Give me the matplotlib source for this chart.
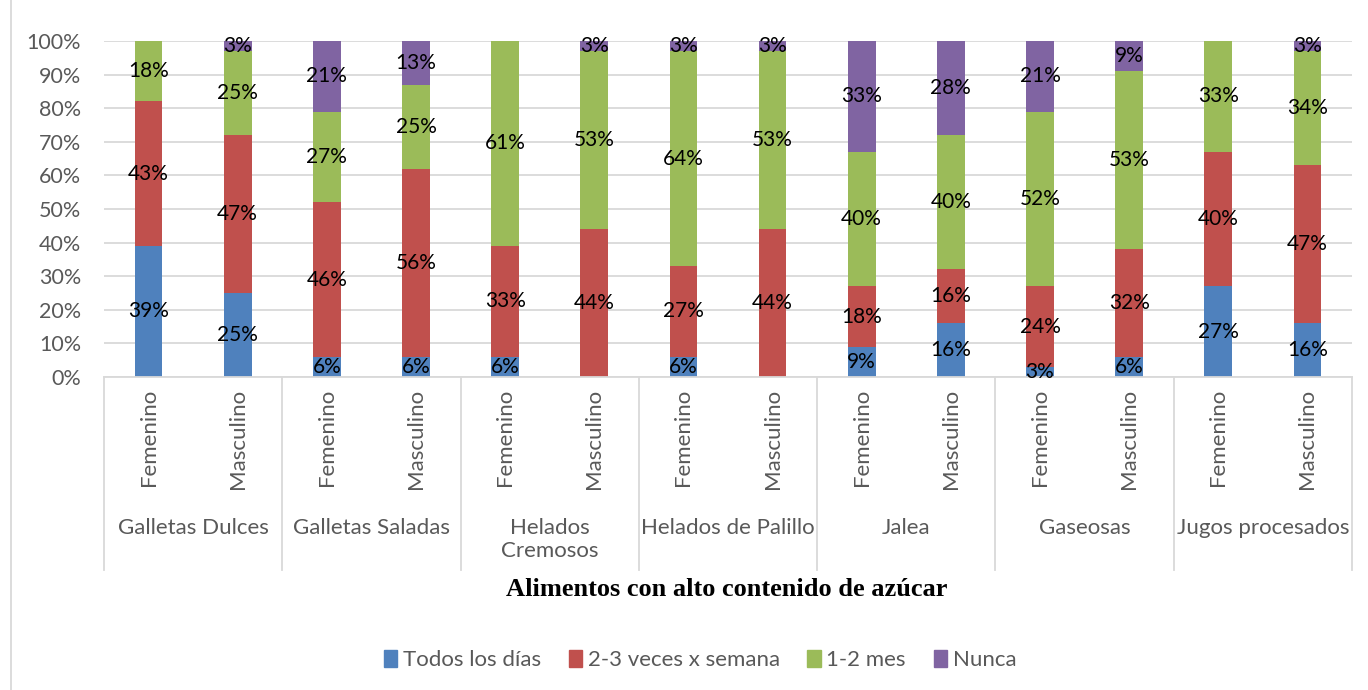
import numpy as np
import matplotlib.pyplot as plt
from matplotlib.patches import Patch
from matplotlib.lines import Line2D
import matplotlib.transforms as mtransforms

plt.rcParams['font.family'] = ['Lato', 'DejaVu Sans']

grupos = ['Galletas Dulces', 'Galletas Saladas', 'Helados\nCremosos',
          'Helados de Palillo', 'Jalea', 'Gaseosas', 'Jugos procesados']
sexos = ['Femenino', 'Masculino']
series = ['Todos los días', '2-3 veces x semana', '1-2 mes', 'Nunca']
colores = ['#4F81BD', '#C0504D', '#9BBB59', '#8064A2']

# porcentajes por barra (F, M de cada grupo)
todos_dias = [39, 25, 6, 6, 6, 0, 6, 0, 9, 16, 3, 6, 27, 16]
veces_semana = [43, 47, 46, 56, 33, 44, 27, 44, 18, 16, 24, 32, 40, 47]
uno_dos_mes = [18, 25, 27, 25, 61, 53, 64, 53, 40, 40, 52, 53, 33, 34]
nunca = [0, 3, 21, 13, 0, 3, 3, 3, 33, 28, 21, 9, 0, 3]

datos = [todos_dias, veces_semana, uno_dos_mes, nunca]
n = len(todos_dias)
x = np.arange(n)

fig = plt.figure(figsize=(13.68, 6.9), dpi=100)
W, H = 1368, 690
ax = fig.add_axes([104 / W, 1 - 377 / H, (1352 - 104) / W, (377 - 41) / H])

base = np.zeros(n)
for vals, col in zip(datos, colores):
    vals = np.array(vals, dtype=float)
    ax.bar(x, vals, 0.31, bottom=base, color=col, zorder=2)
    for xi, b, v in zip(x, base, vals):
        if v > 0:
            ax.text(xi, b + v / 2, f'{int(v)}%', ha='center', va='center',
                    fontsize=15, color='black', zorder=3)
    base += vals

ax.set_xlim(-0.5, n - 0.5)
ax.set_ylim(0, 100)
ax.set_yticks(np.arange(0, 101, 10))
ax.set_yticklabels([f'{t}%' for t in range(0, 101, 10)])
ax.tick_params(axis='y', length=0, labelsize=15.5, labelcolor='#595959', pad=16.5)
ax.set_xticks([])
ax.grid(axis='y', color='#D9D9D9', linewidth=1.3, zorder=0)
for s in ['top', 'right', 'left']:
    ax.spines[s].set_visible(False)
ax.spines['bottom'].set_color('#D9D9D9')
ax.spines['bottom'].set_linewidth(1.3)

# etiquetas de categoría en dos niveles
trans = mtransforms.blended_transform_factory(ax.transData, fig.transFigure)
for i in range(n):
    ax.text(i, 1 - 389 / H, sexos[i % 2], rotation=90, ha='center', va='top',
            fontsize=16, color='#595959', transform=trans)
for g, nombre in enumerate(grupos):
    ax.text(2 * g + 0.5, 1 - 518 / H, nombre, ha='center', va='top',
            fontsize=16, color='#595959', transform=trans, linespacing=1.2)
for k in range(len(grupos) + 1):
    ax.add_line(Line2D([2 * k - 0.5, 2 * k - 0.5], [1 - 377 / H, 1 - 570 / H],
                       color='#D9D9D9', linewidth=1.3, transform=trans,
                       clip_on=False))

fig.text(727 / W, 1 - 590 / H, 'Alimentos con alto contenido de azúcar',
         ha='center', va='center', fontsize=19, fontweight='bold',
         family='Liberation Serif')

handles = [Patch(color=c) for c in colores]
fig.legend(handles, series, loc='center', bbox_to_anchor=(700 / W, 1 - 660 / H),
           ncol=4, frameon=False, fontsize=16, handlelength=0.6,
           handleheight=0.8, handletextpad=0.25, columnspacing=1.25,
           labelcolor='#595959')

fig.add_artist(Line2D([11 / W, 11 / W], [0, 1], color='#D9D9D9', linewidth=1.3))

fig.savefig('out.png', dpi=100, facecolor='white')
